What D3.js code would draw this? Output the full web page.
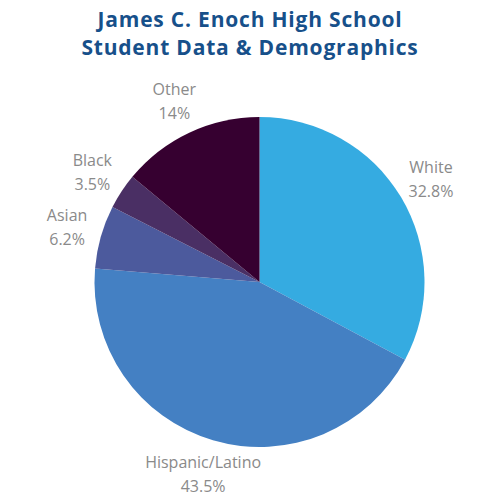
<!DOCTYPE html>
<html>
<head>
<meta charset="utf-8">
<script src="https://cdn.jsdelivr.net/npm/d3@7"></script>
<style>
  body { margin: 0; background: #fff; }
  .title { font-family: "Open Sans", Lato, sans-serif; font-weight: bold; fill: #17508a; letter-spacing: 0.8px; }
  .lbl { font-family: "Open Sans", Lato, sans-serif; fill: #8a8a8a; }
</style>
</head>
<body>
<svg id="chart" width="500" height="500"></svg>
<script>
// slice data, clockwise from 12 o'clock
const groups = ["White", "Hispanic/Latino", "Asian", "Black", "Other"];
const shares = [32.8, 43.5, 6.2, 3.5, 14];
const shareLabels = ["32.8%", "43.5%", "6.2%", "3.5%", "14%"];
const colors = ["#35abe1", "#4480c3", "#4c5a9d", "#4a2f64", "#360030"];
const titleLines = ["James C. Enoch High School", "Student Data & Demographics"];

const svg = d3.select("#chart");
const cx = 259.5, cy = 282, r = 165, labelR = 200;

svg.selectAll("text.title")
  .data(titleLines)
  .enter().append("text")
  .attr("class", "title")
  .attr("x", 250)
  .attr("y", (d, i) => 27 + i * 28)
  .attr("text-anchor", "middle")
  .attr("font-size", 21)
  .text(d => d);

const pie = d3.pie().sort(null).value(d => d.v);
const arcs = pie(groups.map((g, i) => ({ g: g, v: shares[i], lab: shareLabels[i], c: colors[i] })));
const arc = d3.arc().innerRadius(0).outerRadius(r);
const labelArc = d3.arc().innerRadius(labelR).outerRadius(labelR);

const g = svg.append("g").attr("transform", `translate(${cx},${cy})`);

g.selectAll("path")
  .data(arcs)
  .enter().append("path")
  .attr("d", arc)
  .attr("fill", d => d.data.c);

const labels = g.selectAll("g.lbl")
  .data(arcs)
  .enter().append("g")
  .attr("transform", d => `translate(${labelArc.centroid(d)})`);

labels.append("text")
  .attr("class", "lbl")
  .attr("text-anchor", "middle")
  .attr("font-size", 16)
  .attr("y", -6)
  .text(d => d.data.g);

labels.append("text")
  .attr("class", "lbl")
  .attr("text-anchor", "middle")
  .attr("font-size", 16)
  .attr("y", 18)
  .text(d => d.data.lab);
</script>
</body>
</html>
